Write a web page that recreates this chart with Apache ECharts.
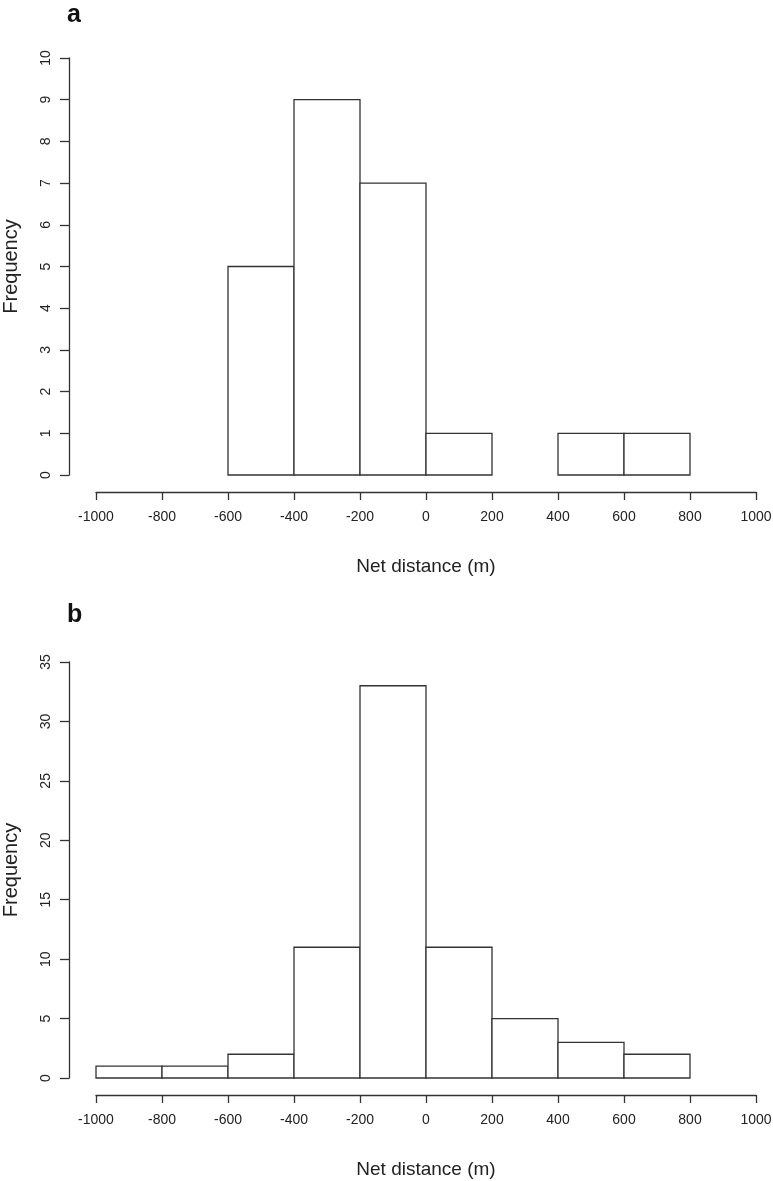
<!DOCTYPE html>
<html>
<head>
<meta charset="utf-8">
<script src="https://cdn.jsdelivr.net/npm/echarts@6/dist/echarts.min.js"></script>
<style>
  html, body { margin: 0; padding: 0; background: #fff; }
  #chart { width: 773px; height: 1181px; }
</style>
</head>
<body>
<div id="chart"></div>
<script>
// histogram bins (left edges, width 200 m)
const binStarts = [-1000, -800, -600, -400, -200, 0, 200, 400, 600]
const binWidth = 200
const countsA = [0, 0, 5, 9, 7, 1, 0, 1, 1]
const countsB = [1, 1, 2, 11, 33, 11, 5, 3, 2]
const panelLabels = ['a', 'b']
const xTitle = 'Net distance (m)'
const yTitle = 'Frequency'

const font = 'Liberation Sans, Arial, sans-serif'
const ink = '#222'

let chart = echarts.init(document.getElementById('chart'))

const toBins = (counts) =>
  binStarts.map((s, i) => [s, s + binWidth, counts[i]]).filter(d => d[2] > 0)

const renderBar = (params, api) => {
  let p0 = api.coord([api.value(0), api.value(2)])
  let p1 = api.coord([api.value(1), 0])
  return {
    type: 'rect',
    shape: { x: p0[0], y: p0[1], width: p1[0] - p0[0], height: p1[1] - p0[1] },
    style: { fill: '#fff', stroke: '#333', lineWidth: 1.3 }
  }
}

const xAxisFor = (idx) => ({
  type: 'value',
  gridIndex: idx,
  min: -1000,
  max: 1000,
  interval: 200,
  offset: 17,
  name: xTitle,
  nameLocation: 'middle',
  nameGap: 65,
  nameTextStyle: { fontFamily: font, fontSize: 19, color: ink },
  axisLine: { show: true, onZero: false, lineStyle: { color: '#333', width: 1.3 } },
  axisTick: { show: true, length: 8, lineStyle: { color: '#333', width: 1.3 } },
  axisLabel: { fontFamily: font, fontSize: 14, color: ink, margin: 18, formatter: v => String(v) },
  splitLine: { show: false }
})

const yAxisFor = (idx, max, step) => ({
  type: 'value',
  gridIndex: idx,
  min: 0,
  max: max,
  interval: step,
  offset: 27,
  name: yTitle,
  nameLocation: 'middle',
  nameGap: 48,
  nameTextStyle: { fontFamily: font, fontSize: 20, color: ink },
  axisLine: { show: true, onZero: false, lineStyle: { color: '#333', width: 1.3 } },
  axisTick: { show: true, length: 9, lineStyle: { color: '#333', width: 1.3 } },
  axisLabel: { fontFamily: font, fontSize: 14, color: ink, rotate: 90, margin: 16 },
  splitLine: { show: false }
})

let opts = {
  backgroundColor: '#fff',
  animation: false,
  title: [
    { text: panelLabels[0], left: 62, top: -2, textStyle: { fontFamily: font, fontSize: 25, fontWeight: 'bold', color: '#111' } },
    { text: panelLabels[1], left: 62, top: 598, textStyle: { fontFamily: font, fontSize: 25, fontWeight: 'bold', color: '#111' } }
  ],
  grid: [
    { left: 96, width: 660, top: 58, height: 417, outerBoundsMode: 'none' },
    { left: 96, width: 660, top: 662, height: 416, outerBoundsMode: 'none' }
  ],
  xAxis: [xAxisFor(0), xAxisFor(1)],
  yAxis: [yAxisFor(0, 10, 1), yAxisFor(1, 35, 5)],
  series: [
    { type: 'custom', xAxisIndex: 0, yAxisIndex: 0, renderItem: renderBar, data: toBins(countsA) },
    { type: 'custom', xAxisIndex: 1, yAxisIndex: 1, renderItem: renderBar, data: toBins(countsB) }
  ]
}
chart.setOption(opts)
</script>
</body>
</html>
